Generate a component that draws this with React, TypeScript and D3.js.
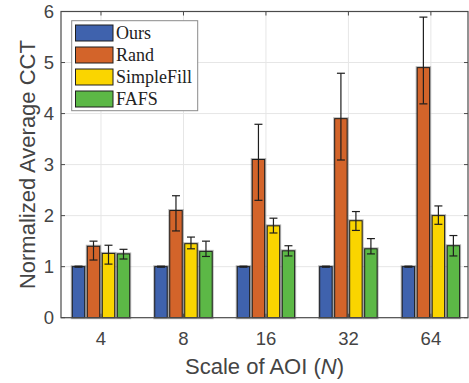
import React from "react";
import * as d3 from "d3";

const categories = ["4", "8", "16", "32", "64"];
const seriesNames = ["Ours", "Rand", "SimpleFill", "FAFS"];
const seriesColors = ["#3f62ad", "#d3642a", "#fad500", "#5cb846"];

const oursMean = [1, 1, 1, 1, 1];
const oursLow = [0.99, 0.99, 0.99, 0.99, 0.99];
const oursHigh = [1.01, 1.01, 1.01, 1.01, 1.01];

const randMean = [1.4, 2.1, 3.1, 3.9, 4.9];
const randLow = [1.13, 1.7, 2.3, 3.09, 4.19];
const randHigh = [1.5, 2.39, 3.79, 4.79, 5.89];

const simpleMean = [1.26, 1.45, 1.8, 1.9, 2.0];
const simpleLow = [1.05, 1.35, 1.66, 1.71, 1.83];
const simpleHigh = [1.42, 1.58, 1.95, 2.08, 2.19];

const fafsMean = [1.25, 1.3, 1.31, 1.35, 1.41];
const fafsLow = [1.15, 1.2, 1.21, 1.25, 1.21];
const fafsHigh = [1.34, 1.5, 1.41, 1.55, 1.61];

const yTicks = [0, 1, 2, 3, 4, 5, 6];

const seriesData = [
  { mean: oursMean, low: oursLow, high: oursHigh },
  { mean: randMean, low: randLow, high: randHigh },
  { mean: simpleMean, low: simpleLow, high: simpleHigh },
  { mean: fafsMean, low: fafsLow, high: fafsHigh },
];

export default function App() {
  const W = 469;
  const H = 383;
  const left = 61;
  const right = 468;
  const top = 11.5;
  const bottom = 317.7;

  const x = d3.scaleLinear().domain([0.515, 5.45]).range([left, right]);
  const y = d3.scaleLinear().domain([0, 6]).range([bottom, top]);
  const inner = d3
    .scaleBand<string>()
    .domain(seriesNames)
    .range([-30, 30])
    .paddingInner(0.17)
    .paddingOuter(0.085);
  const bw = inner.bandwidth();

  const axisColor = "#4a4a4a";
  const textColor = "#444";
  const gridColor = "#e6e6e6";
  const sans = "Liberation Sans, Arial, Helvetica, sans-serif";
  const serif = "Liberation Serif, Times New Roman, serif";

  return (
    <svg
      width={W}
      height={H}
      style={{ position: "absolute", left: 0, top: 0, background: "#fff" }}
    >
      <rect x={0} y={0} width={W} height={H} fill="#fff" />
      {/* grid */}
      {yTicks.slice(1, -1).map((t) => (
        <line key={"gy" + t} x1={left} x2={right} y1={y(t)} y2={y(t)} stroke={gridColor} strokeWidth={1} />
      ))}
      {categories.map((c, i) => (
        <line key={"gx" + c} x1={x(i + 1)} x2={x(i + 1)} y1={top} y2={bottom} stroke={gridColor} strokeWidth={1} />
      ))}

      {/* bars */}
      {seriesData.map((s, si) =>
        s.mean.map((v, i) => {
          const cx = x(i + 1) + (inner(seriesNames[si]) as number) + bw / 2;
          const x0 = cx - bw / 2;
          return (
            <g key={"b" + si + "-" + i}>
              <rect x={x0} y={y(v)} width={bw} height={y(0) - y(v)} fill={seriesColors[si]} stroke="rgba(0,0,0,0.28)" strokeWidth={3} />
              <rect x={x0} y={y(v)} width={bw} height={y(0) - y(v)} fill={seriesColors[si]} stroke="#1e1e1e" strokeWidth={1} />
            </g>
          );
        })
      )}

      {/* error bars */}
      {seriesData.map((s, si) =>
        s.mean.map((v, i) => {
          const cx = x(i + 1) + (inner(seriesNames[si]) as number) + bw / 2;
          const yl = y(s.low[i]);
          const yh = y(s.high[i]);
          return (
            <g key={"e" + si + "-" + i} stroke="#1e1e1e" strokeWidth={1.2}>
              <line x1={cx} x2={cx} y1={yl} y2={yh} />
              <line x1={cx - 4} x2={cx + 4} y1={yl} y2={yl} />
              <line x1={cx - 4} x2={cx + 4} y1={yh} y2={yh} />
            </g>
          );
        })
      )}

      {/* axes box */}
      <rect x={left} y={top} width={right - left} height={bottom - top} fill="none" stroke={axisColor} strokeWidth={1.2} />
      {yTicks.map((t) => (
        <g key={"yt" + t}>
          <line x1={left} x2={left + 4} y1={y(t)} y2={y(t)} stroke={axisColor} />
          <line x1={right - 4} x2={right} y1={y(t)} y2={y(t)} stroke={axisColor} />
          <text x={54} y={y(t)} dy="0.36em" textAnchor="end" fontFamily={sans} fontSize={18.5} fill={textColor}>
            {t}
          </text>
        </g>
      ))}
      {categories.map((c, i) => (
        <g key={"xt" + c}>
          <line x1={x(i + 1)} x2={x(i + 1)} y1={bottom} y2={bottom - 4} stroke={axisColor} />
          <line x1={x(i + 1)} x2={x(i + 1)} y1={top} y2={top + 4} stroke={axisColor} />
          <text x={x(i + 1)} y={345} textAnchor="middle" fontFamily={sans} fontSize={18.5} fill={textColor}>
            {c}
          </text>
        </g>
      ))}

      {/* axis titles */}
      <text x={(left + right) / 2} y={373.5} textAnchor="middle" fontFamily={sans} fontSize={22} fill={textColor}>
        Scale of AOI (<tspan fontStyle="italic">N</tspan>)
      </text>
      <text
        transform={`translate(35,${(top + bottom) / 2}) rotate(-90)`}
        textAnchor="middle"
        fontFamily={sans}
        fontSize={22}
        fill={textColor}
      >
        Normalized Average CCT
      </text>

      {/* legend */}
      <rect x={71.7} y={20.7} width={126} height={90} fill="#fff" stroke="#8a8a8a" strokeWidth={1} />
      {seriesNames.map((n, i) => (
        <g key={"lg" + n}>
          <rect x={75.5} y={25 + i * 22} width={37.5} height={16} fill={seriesColors[i]} stroke="#1e1e1e" strokeWidth={1} />
          <text x={116} y={38.5 + i * 22} fontFamily={serif} fontSize={18} fill="#222">
            {n}
          </text>
        </g>
      ))}
    </svg>
  );
}
